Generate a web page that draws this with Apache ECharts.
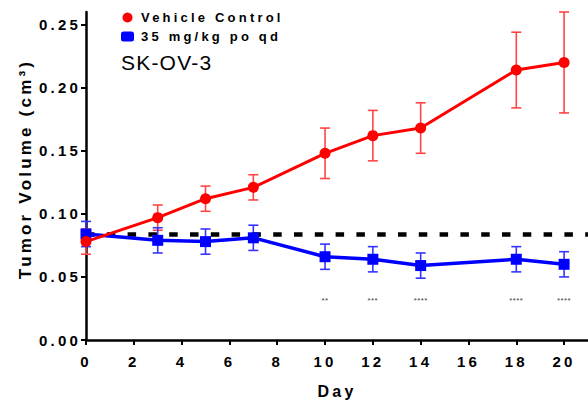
<!DOCTYPE html>
<html>
<head>
<meta charset="utf-8">
<script src="https://cdn.jsdelivr.net/npm/echarts@6/dist/echarts.min.js"></script>
<style>
  html, body { margin: 0; padding: 0; background: #fff; }
  #chart { width: 588px; height: 404px; letter-spacing: 3.2px; }
  #chart text[fill="#444444"], #chart text[fill="rgb(68,68,68)"] { letter-spacing: 0.4px; }
  #chart text[fill="#010101"], #chart text[fill="rgb(1,1,1)"] { letter-spacing: 1.2px; }
</style>
</head>
<body>
<div id="chart"></div>
<script>
// ---- data ----
const days = [0, 3, 5, 7, 10, 12, 14, 18, 20];
const vehicleMean = [0.078, 0.097, 0.112, 0.121, 0.148, 0.162, 0.168, 0.214, 0.220];
const vehicleSem  = [0.010, 0.010, 0.010, 0.010, 0.020, 0.020, 0.020, 0.030, 0.040];
const treatedMean = [0.084, 0.079, 0.078, 0.081, 0.066, 0.064, 0.059, 0.064, 0.060];
const treatedSem  = [0.010, 0.010, 0.010, 0.010, 0.010, 0.010, 0.010, 0.010, 0.010];
const sigDays   = [10, 12, 14, 18, 20];
const sigLabels = ['**', '***', '****', '****', '****'];
const baseline = 0.084;
const seriesNames = ['Vehicle Control', '35 mg/kg po qd'];
const xTicks = [0, 2, 4, 6, 8, 10, 12, 14, 16, 18, 20];
const yTicks = [0, 0.05, 0.10, 0.15, 0.20, 0.25];
const xMax = 21, yMax = 0.26;
const chartTitle = 'SK-OV-3';
const xName = 'Day';
const yName = 'Tumor Volume (cm³)';

// ---- chart ----
const FONT = "'Liberation Sans', Arial, sans-serif";
const chart = echarts.init(document.getElementById('chart'), null, { renderer: 'svg' });

function errData(mean, sem) {
  return days.map((d, i) => [d, mean[i] - sem[i], mean[i] + sem[i]]);
}
function errRender(color) {
  return function (params, api) {
    const x = api.value(0);
    const lo = api.coord([x, api.value(1)]);
    const hi = api.coord([x, api.value(2)]);
    const w = 5;
    const style = { stroke: color, lineWidth: 1.6, fill: null };
    return {
      type: 'group',
      children: [
        { type: 'line', shape: { x1: lo[0], y1: lo[1], x2: hi[0], y2: hi[1] }, style },
        { type: 'line', shape: { x1: hi[0] - w, y1: hi[1], x2: hi[0] + w, y2: hi[1] }, style },
        { type: 'line', shape: { x1: lo[0] - w, y1: lo[1], x2: lo[0] + w, y2: lo[1] }, style }
      ]
    };
  };
}

const option = {
  animation: false,
  textStyle: { fontFamily: FONT },
  title: {
    text: chartTitle, left: 121, top: 52, padding: 0,
    textStyle: { fontSize: 21, fontWeight: 'normal', color: '#010101', fontFamily: FONT }
  },
  legend: {
    orient: 'vertical', left: 121, top: 11, padding: 0, itemGap: 6,
    itemWidth: 13, itemHeight: 10,
    textStyle: { fontSize: 13, fontWeight: 'bold', color: '#000', fontFamily: FONT, padding: [0, 0, 0, 2] },
    data: [
      { name: seriesNames[0], icon: 'circle' },
      { name: seriesNames[1], icon: 'roundRect' }
    ]
  },
  graphic: [{
    type: 'text', x: 25, y: 169, rotation: Math.PI / 2, silent: true,
    style: {
      text: yName, align: 'center', verticalAlign: 'middle',
      font: 'bold 17px ' + FONT, fill: '#000'
    }
  }],
  grid: { left: 86, right: 0, top: 12, bottom: 56, containLabel: false },
  xAxis: {
    type: 'value', min: 0, max: xMax, interval: 2,
    name: xName, nameLocation: 'middle', nameGap: 43,
    nameTextStyle: { fontSize: 16, fontWeight: 'bold', color: '#000', fontFamily: FONT },
    axisLine: { lineStyle: { color: '#000', width: 2.5 } },
    axisTick: { length: 5, lineStyle: { color: '#000', width: 2 }, customValues: xTicks },
    axisLabel: { customValues: xTicks, fontSize: 15, fontWeight: 'bold', color: '#000', margin: 14, fontFamily: FONT },
    splitLine: { show: false }
  },
  yAxis: {
    type: 'value', min: 0, max: yMax, interval: 0.05,
    axisLine: { show: true, lineStyle: { color: '#000', width: 2.5 } },
    axisTick: { show: true, length: 5, lineStyle: { color: '#000', width: 2 }, customValues: yTicks },
    axisLabel: { customValues: yTicks, fontSize: 15, fontWeight: 'bold', color: '#000', margin: 5,
      fontFamily: FONT, formatter: v => v.toFixed(2) },
    splitLine: { show: false }
  },
  series: [
    {
      type: 'custom', name: 'vehErr', z: 1, silent: true,
      renderItem: errRender('#ff4545'),
      data: errData(vehicleMean, vehicleSem)
    },
    {
      type: 'custom', name: 'trtErr', z: 1, silent: true,
      renderItem: errRender('#3535ff'),
      data: errData(treatedMean, treatedSem)
    },
    {
      type: 'line', name: seriesNames[1], z: 3,
      data: days.map((d, i) => [d, treatedMean[i]]),
      symbol: 'rect', symbolSize: 11,
      itemStyle: { color: '#0000ff' },
      lineStyle: { color: '#0000ff', width: 3.5 },
      markLine: {
        silent: true, symbol: 'none', z: 2, precision: 4,
        label: { show: false },
        lineStyle: { color: '#000', width: 4.5, type: [8.5, 12.3] },
        data: [{ yAxis: baseline }]
      }
    },
    {
      type: 'line', name: seriesNames[0], z: 4,
      data: days.map((d, i) => [d, vehicleMean[i]]),
      symbol: 'circle', symbolSize: 11,
      itemStyle: { color: '#ff0000' },
      lineStyle: { color: '#ff0000', width: 3 }
    },
    {
      type: 'custom', name: 'sig', z: 5, silent: true,
      renderItem: function (params, api) {
        const p = api.coord([api.value(0), 0]);
        return {
          type: 'text',
          style: {
            text: sigLabels[params.dataIndex], x: p[0], y: p[1] - 40,
            align: 'center', verticalAlign: 'middle',
            fill: '#444444', font: '8px ' + FONT
          }
        };
      },
      data: sigDays.map(d => [d, 0])
    }
  ]
};
chart.setOption(option);
</script>
</body>
</html>
